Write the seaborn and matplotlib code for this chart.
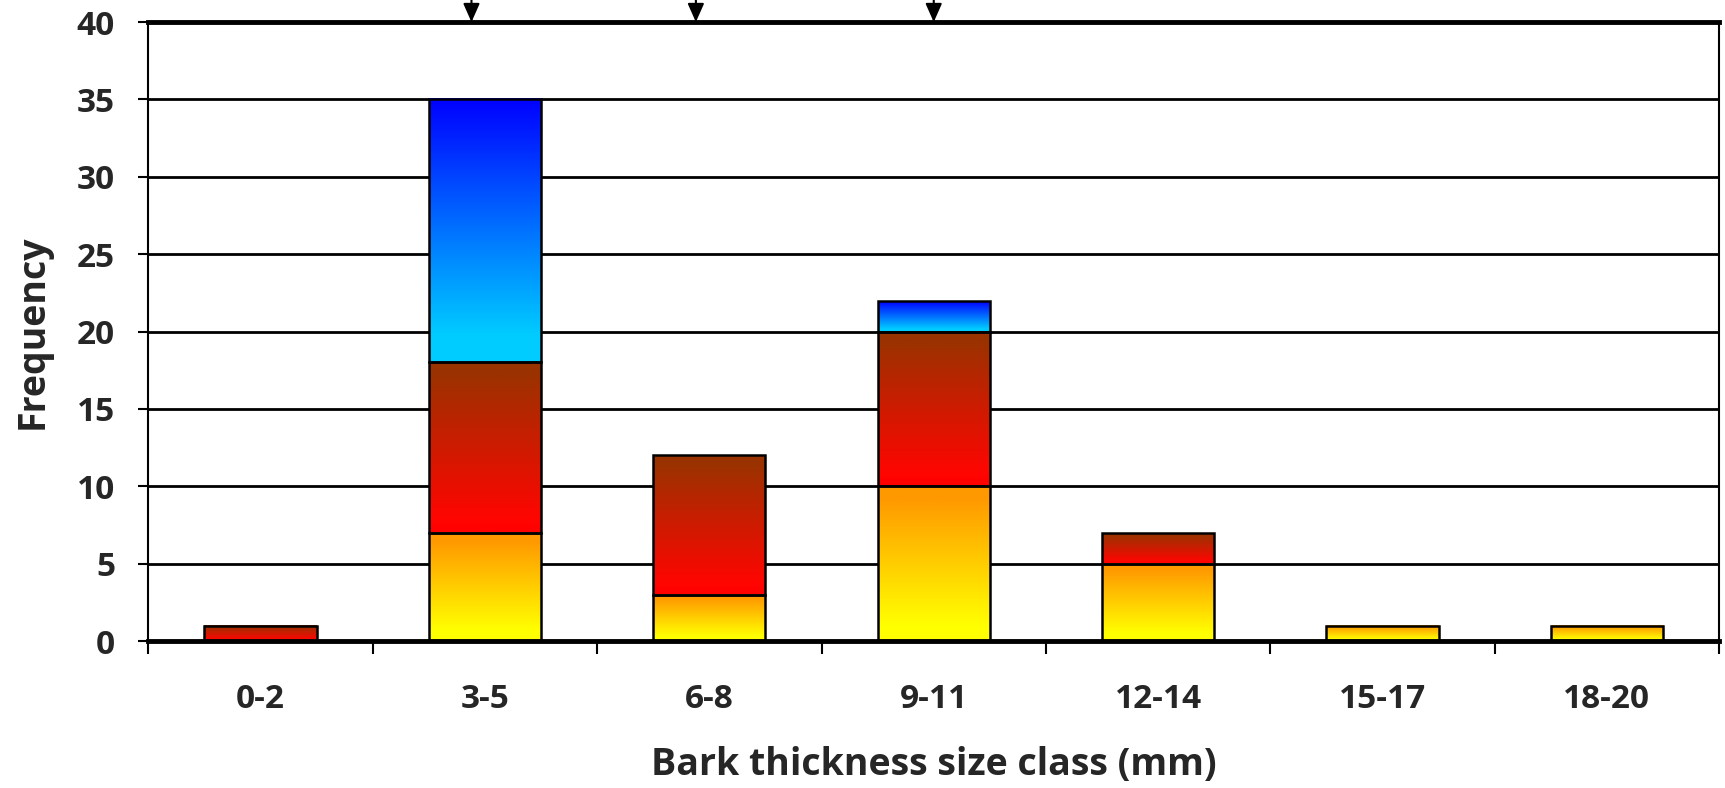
import numpy as np
import pandas as pd
import matplotlib
matplotlib.use("Agg")
import matplotlib.pyplot as plt
from matplotlib.colors import LinearSegmentedColormap
import seaborn as sns

categories = ["0-2", "3-5", "6-8", "9-11", "12-14", "15-17", "18-20"]
yellow_vals = [0, 7, 3, 10, 5, 1, 1]
red_vals = [1, 11, 9, 10, 2, 0, 0]
blue_vals = [0, 17, 0, 2, 0, 0, 0]
arrow_cats = ["3-5", "6-8", "9-11"]
arrow_offsets = [-0.06, -0.06, 0.0]
y_ticks = [0, 5, 10, 15, 20, 25, 30, 35, 40]

sns.set_theme(style="white")
plt.rcParams['font.family'] = ['Open Sans', 'DejaVu Sans']

fig = plt.figure(figsize=(17.25, 7.88), dpi=100)
ax = fig.add_axes([0.086, 0.1865, 0.9106, 0.7855])

yel = np.array(yellow_vals, float)
red = np.array(red_vals, float)
blu = np.array(blue_vals, float)
lvl1 = yel
lvl2 = yel + red
lvl3 = yel + red + blu

cm_yellow = LinearSegmentedColormap.from_list("y", [(0, (1, 1, 0)), (0.1, (1, 1, 0)), (0.92, (1, 0.6, 0)), (1, (1, 0.6, 0))])
cm_red = LinearSegmentedColormap.from_list("r", [(0, (1, 0, 0)), (0.08, (1, 0.02, 0)), (0.95, (0.6, 0.2, 0)), (1, (0.6, 0.2, 0))])
cm_blue = LinearSegmentedColormap.from_list("b", [(0, (0, 0.8, 1)), (0.1, (0, 0.8, 1)), (1, (0, 0.0, 1))])

layers = [(lvl3, lvl2, cm_blue), (lvl2, lvl1, cm_red), (lvl1, np.zeros_like(lvl1), cm_yellow)]

grad = np.linspace(0, 1, 256).reshape(-1, 1)
for tops, bottoms, cmap in layers:
    df = pd.DataFrame({"cat": categories, "val": tops})
    n_before = len(ax.patches)
    sns.barplot(data=df, x="cat", y="val", order=categories, width=0.5,
                color="none", edgecolor="black", linewidth=2, ax=ax, zorder=3)
    new = ax.patches[n_before:]
    for p, t, b in zip(new, tops, bottoms):
        p.set_facecolor("none")
        p.set_visible(False)
        if t - b <= 0:
            continue
        x0 = p.get_x()
        w = p.get_width()
        ax.imshow(grad, cmap=cmap, origin="lower", aspect="auto",
                  extent=[x0, x0 + w, b, t], zorder=2.5, interpolation="bilinear")
        ax.add_patch(plt.Rectangle((x0, b), w, t - b, fill=False, edgecolor="black",
                                   linewidth=1.8, zorder=3))

ax.set_xlim(-0.5, len(categories) - 0.5)
ax.set_ylim(0, 40)
ax.set_yticks(y_ticks)
ax.set_yticklabels([str(v) for v in y_ticks])
for v in y_ticks[1:-1]:
    ax.axhline(v, color="black", linewidth=2, zorder=1)

ax.set_xticks(range(len(categories)))
ax.set_xticklabels(categories)
ax.tick_params(axis="x", length=0, pad=30, labelsize=24)
ax.set_xticks(np.arange(-0.5, len(categories)), minor=True)
ax.tick_params(axis="x", which="minor", length=9, width=1.5, direction="out", color="black", bottom=True)
ax.tick_params(axis="y", length=7, width=1.5, direction="out", color="black", left=True, labelsize=24, pad=17)
for lab in ax.get_xticklabels() + ax.get_yticklabels():
    lab.set_fontweight("bold")

for s, lw in [("left", 1.5), ("right", 1.5), ("top", 3.5), ("bottom", 3.5)]:
    ax.spines[s].set_visible(True)
    ax.spines[s].set_color("black")
    ax.spines[s].set_linewidth(lw)

ax.set_xlabel("Bark thickness size class (mm)", fontsize=27, fontweight="bold", labelpad=22)
ax.set_ylabel("Frequency", fontsize=27, fontweight="bold", labelpad=18)

for c, off in zip(arrow_cats, arrow_offsets):
    xi = categories.index(c) + off
    ax.annotate("", xy=(xi, 40), xytext=(xi, 40 + 1.6), xycoords="data",
                arrowprops=dict(arrowstyle="-|>,head_length=0.45,head_width=0.2",
                                color="black", lw=1.5, mutation_scale=25,
                                shrinkA=0, shrinkB=0),
                annotation_clip=False)

fig.savefig("out.png", dpi=100, facecolor="white")
